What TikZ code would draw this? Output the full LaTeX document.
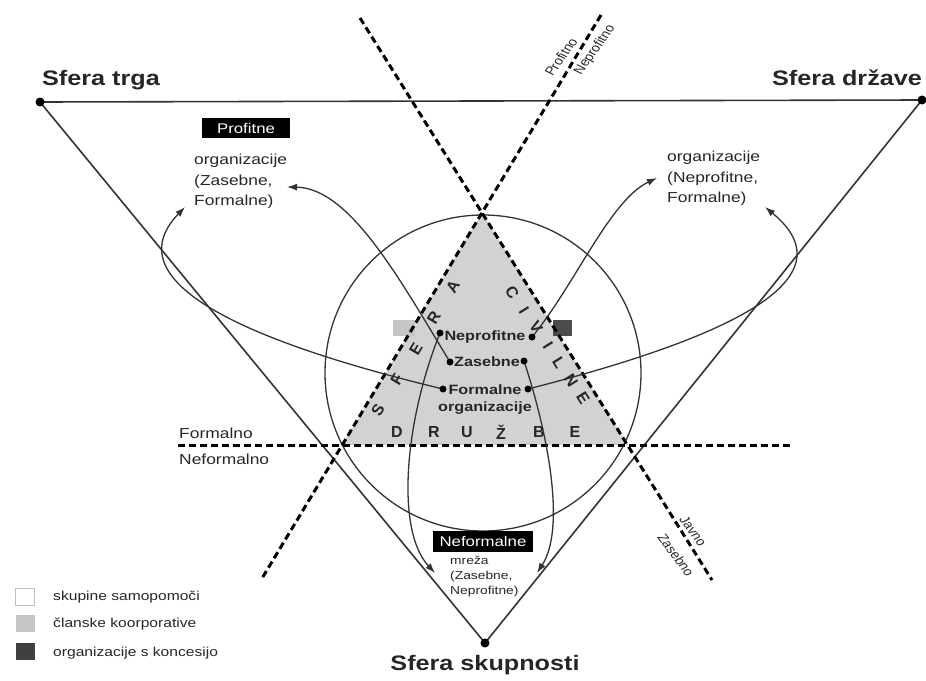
\documentclass[tikz,border=0pt]{standalone}
\usepackage{fontspec}
\setmainfont{Liberation Sans}
\usetikzlibrary{arrows.meta}
\begin{document}
\begin{tikzpicture}[x=1pt,y=-1pt,
  ln/.style={line width=1.3pt, draw=black!80},
  dsh/.style={line width=3pt, dash pattern=on 7pt off 4pt, draw=black},
  arr/.style={ln, -{Latex[length=10pt,width=7pt]}},
  txt/.style={inner sep=0pt, xscale=1.2, text=black!85},
  big/.style={txt, font=\fontsize{21}{21}\selectfont\bfseries},
  mid/.style={txt, align=left, font=\fontsize{14.5}{20.5}\selectfont},
  inner/.style={txt, font=\fontsize{13.5}{14}\selectfont\bfseries},
  blk/.style={txt, fill=black, text=white, font=\fontsize{14}{14}\selectfont},
  small/.style={txt, font=\fontsize{11.5}{11.5}\selectfont},
  lett/.style={inner sep=0pt, text=black!85, font=\fontsize{16}{16}\selectfont\bfseries},
  leg/.style={txt, anchor=west, font=\fontsize{13}{13}\selectfont},
  legbox/.style={inner sep=0pt, minimum width=19pt, minimum height=17pt}
]
\useasboundingbox (0,0) rectangle (926,680);
% key points
\coordinate (T) at (40,102);
\coordinate (D) at (922,100);
\coordinate (S) at (485,643);
\coordinate (apex) at (482,213);
\coordinate (bl) at (342,445);
\coordinate (br) at (628,445);
\coordinate (L1a) at (360,18);
\coordinate (L1b) at (712,580);
\coordinate (L2a) at (601,15);
\coordinate (L2b) at (261,580);
\coordinate (Ha) at (178,445);
\coordinate (Hb) at (790,445);
\coordinate (C) at (483,373);
% grey triangle
\fill[gray!35] (apex) -- (bl) -- (br) -- cycle;
% small squares
\node[inner sep=0pt, minimum width=22pt, minimum height=16pt, fill=gray!45] (sqL) at (404,328) {};
\node[inner sep=0pt, minimum width=19pt, minimum height=16pt, fill=black!70] (sqR) at (562,328) {};
% circle
\draw[ln] (C) circle[radius=158pt];
% big triangle
\draw[ln, line width=1.6pt] (T) -- (D) -- (S) -- cycle;
% dashed lines
\draw[dsh] (L1a) -- (L1b);
\draw[dsh] (L2a) -- (L2b);
\draw[dsh] (Ha) -- (Hb);
% inner labels and dots
\coordinate (NpL) at (440,333);
\coordinate (NpR) at (532,337);
\coordinate (ZaL) at (450,362);
\coordinate (ZaR) at (524,361);
\coordinate (FoL) at (443,389);
\coordinate (FoR) at (528,389);
\node[inner] (np) at (485,337) {Neprofitne};
\node[inner] (za) at (487,362) {Zasebne};
\node[inner] (fo) at (485,390) {Formalne};
\node[inner] (org) at (485,408) {organizacije};
% curves
\draw[arr] (ZaL) .. controls (400,280) and (350,188) .. (287,187);
\draw[arr] (FoL) .. controls (260,345) and (110,285) .. (185,207);
\draw[arr] (NpR) .. controls (575,285) and (610,200) .. (657,178);
\draw[arr] (FoR) .. controls (700,345) and (860,285) .. (765,207);
\draw[arr] (NpL) .. controls (405,420) and (395,530) .. (435,573);
\draw[arr] (ZaR) .. controls (550,440) and (565,530) .. (537,573);
\foreach \p in {NpL,NpR,ZaL,ZaR,FoL,FoR}{\fill (\p) circle (3.5pt);}
\foreach \p in {T,D,S}{\fill (\p) circle (4.5pt);}
% sphere labels
\node[big] (trg) at (101,80) {Sfera trga};
\node[big] (drz) at (847,78) {Sfera države};
\node[big] (sk) at (485,665) {Sfera skupnosti};
% letters
\node[lett, rotate=59] (s1) at (378,410) {S};
\node[lett, rotate=59] (s2) at (397,379) {F};
\node[lett, rotate=59] (s3) at (416,349) {E};
\node[lett, rotate=59] (s4) at (434,318) {R};
\node[lett, rotate=59] (s5) at (453,287) {A};
\node[lett, rotate=-58] (c1) at (512,292) {C};
\node[lett, rotate=-58] (c2) at (524,310) {I};
\node[lett, rotate=-58] (c3) at (536,327) {V};
\node[lett, rotate=-58] (c4) at (548,345) {I};
\node[lett, rotate=-58] (c5) at (559,363) {L};
\node[lett, rotate=-58] (c6) at (571,380) {N};
\node[lett, rotate=-58] (c7) at (583,398) {E};
\node[lett] (d1) at (397,432) {D};
\node[lett] (d2) at (434,432) {R};
\node[lett] (d3) at (467,432) {U};
\node[lett] (d4) at (501,432) {Ž};
\node[lett] (d5) at (539,432) {B};
\node[lett] (d6) at (575,432) {E};
% boxes and texts
\node[blk, minimum width=73pt, minimum height=20pt] (prof) at (246,128) {Profitne};
\node[mid, anchor=north west] (orgL) at (194,154) {organizacije\\(Zasebne,\\Formalne)};
\node[mid, anchor=north west] (orgR) at (667,151) {organizacije\\(Neprofitne,\\Formalne)};
\node[blk, minimum width=84pt, minimum height=21pt] (nef) at (483,541) {Neformalne};
\node[small, anchor=north west, align=left, font=\fontsize{11.5}{15}\selectfont] (mr) at (450,556) {mreža\\(Zasebne,\\Neprofitne)};
\node[mid, anchor=west] (fml) at (179,433) {Formalno};
\node[mid, anchor=west] (nfml) at (179,459) {Neformalno};
\node[small, rotate=59, font=\fontsize{12}{12}\selectfont] (pro) at (561,57) {Profitno};
\node[small, rotate=59, font=\fontsize{12}{12}\selectfont] (npro) at (595,50) {Neprofitno};
\node[small, rotate=-58, font=\fontsize{12}{12}\selectfont] (jav) at (693,531) {Javno};
\node[small, rotate=-58, font=\fontsize{12}{12}\selectfont] (zas) at (676,555) {Zasebno};
% legend
\node[legbox, draw=black!25, fill=white] (lg1) at (25,597) {};
\node[legbox, fill=gray!45] (lg2) at (25,623) {};
\node[legbox, fill=black!75] (lg3) at (25,651) {};
\node[leg] (lt1) at (53,597) {skupine samopomoči};
\node[leg] (lt2) at (53,624) {članske koorporative};
\node[leg] (lt3) at (53,653) {organizacije s koncesijo};
\end{tikzpicture}
\end{document}
